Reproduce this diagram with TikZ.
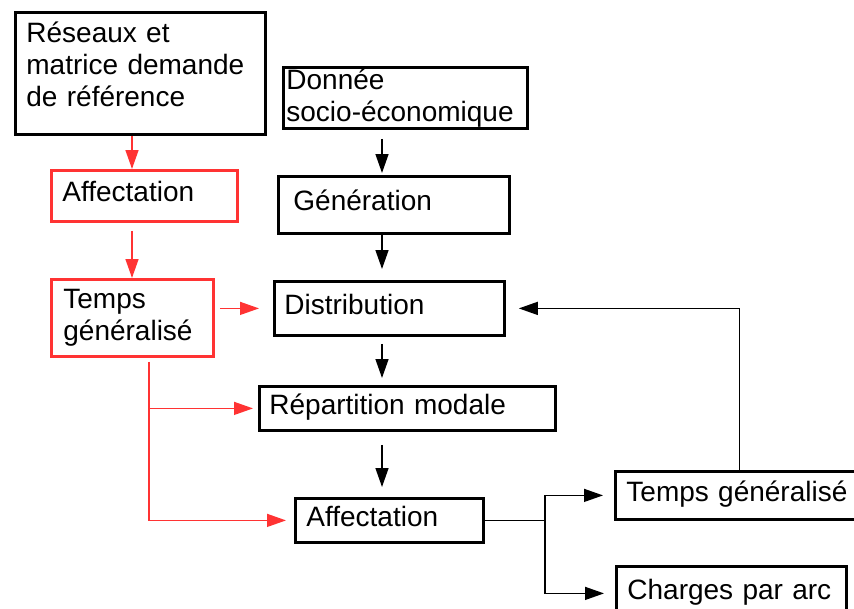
\documentclass[tikz,border=0pt]{standalone}
\usepackage{fontspec}
\setmainfont{Liberation Sans}
\usetikzlibrary{arrows.meta}
\definecolor{myred}{RGB}{255,51,51}

\begin{document}
\begin{tikzpicture}[x=1pt,y=-1pt, % pixel grid
  box/.style={draw, line width=2.8pt, align=left, anchor=north west, inner xsep=11pt, inner ysep=1pt, font=\fontsize{28}{32}\selectfont},
  redbox/.style={box, draw=myred},
  oneline/.style={text height=22pt, text depth=10pt},
  flow/.style={-{Triangle[length=19pt,width=13pt]}, line width=1.4pt},
  redflow/.style={flow, draw=myred}]
  \useasboundingbox (0,0) rectangle (854,608);

  \node[box, text width=228pt, minimum height=122pt, text height=21pt, text depth=82pt] (RM) at (14,11) {Réseaux et\\matrice demande\\de référence};
  \node[redbox, oneline, text width=164pt, minimum height=51pt] (AR) at (50,169) {Affectation};
  \node[redbox, inner xsep=12pt, text width=138pt, minimum height=77pt] (TR) at (50,278) {Temps\\généralisé};
  \node[box, inner xsep=3pt, text width=238pt, minimum height=61pt] (DS) at (282,66) {Donnée\\socio-économique};
  \node[box, oneline, inner xsep=15pt, text width=201pt, minimum height=57pt] (G) at (277,175) {Génération};
  \node[box, oneline, inner xsep=10pt, text width=210pt, minimum height=54pt] (D) at (273,280) {Distribution};
  \node[box, oneline, inner xsep=10pt, text width=276pt, minimum height=44pt] (RP) at (258,385) {Répartition modale};
  \node[box, oneline, text width=166pt, minimum height=44pt] (A) at (294,497) {Affectation};
  \node[box, oneline, text width=226pt, minimum height=48pt] (TG) at (614,470) {Temps généralisé};
  \node[box, oneline, text width=208pt, minimum height=54pt] (C) at (615,565) {Charges par arc};

  \coordinate (rcol) at (132,0);
  \coordinate (rsplit) at (149,0);
  \coordinate (col) at (382,0);
  \coordinate (bsplit) at (545,0);

  \draw[redflow] (RM.south -| rcol) -- (AR.north -| rcol);
  \draw[redflow, shorten <=8pt] (AR.south -| rcol) -- (TR.north -| rcol);
  \draw[redflow, shorten <=5pt, shorten >=14pt] (TR.east |- D.west) -- (D.west);
  \draw[redflow, shorten <=4pt, shorten >=5pt] (TR.south -| rsplit) |- (RP.west);
  \draw[redflow, shorten <=4pt, shorten >=8pt] (TR.south -| rsplit) |- (A.west);

  \draw[flow, shorten <=9pt, shorten >=2pt] (DS.south -| col) -- (G.north -| col);
  \draw[flow, shorten >=11pt] (G.south -| col) -- (D.north -| col);
  \draw[flow, shorten <=7pt, shorten >=7pt] (D.south -| col) -- (RP.north -| col);
  \draw[flow, shorten <=13pt, shorten >=10pt] (RP.south -| col) -- (A.north -| col);
  \draw[line width=1.4pt] (A.east) -- (A.east -| bsplit);
  \draw[flow, shorten >=11pt] (A.east -| bsplit) |- (TG.west);
  \draw[flow, shorten >=11pt] (A.east -| bsplit) |- (C.west);
  \draw[flow, shorten >=13pt] (TG.north) |- (D.east);
\end{tikzpicture}
\end{document}
